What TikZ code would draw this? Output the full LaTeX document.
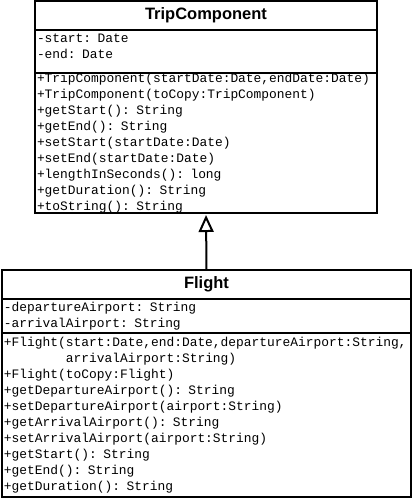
\documentclass[tikz,border=0pt]{standalone}
\usepackage{fontspec}
\setmainfont{Liberation Sans}
\setmonofont{Liberation Mono}
\usetikzlibrary{positioning,arrows.meta}

\tikzset{
    classname/.style={draw, rectangle, line width=2pt, outer sep=0pt, inner sep=0pt, minimum height=29pt, font=\fontsize{16.5}{20}\selectfont\bfseries},
    classpart/.style={draw, rectangle, line width=2pt, outer sep=0pt, inner xsep=2pt, inner ysep=0pt, align=left, font=\fontsize{12.9}{16}\selectfont\ttfamily},
    inherits/.style={-{Triangle[open, length=17pt, width=15pt]}, line width=2pt, shorten >=2pt}
}

\begin{document}
\begin{tikzpicture}[x=1pt, y=1pt]
    \fill[white] (0,0) rectangle (414,500);
    \useasboundingbox (0,0) rectangle (414,500);

    % superclass
    \node[classname, minimum width=342pt, anchor=north] (trip-name) at (206,499) {TripComponent};
    \node[classpart, text width=338pt, minimum height=43pt, below=0pt of trip-name] (trip-attr) {-start: Date\\-end: Date\\[-5pt]\mbox{}};
    \node[classpart, text width=338pt, minimum height=139pt, below=0pt of trip-attr] (trip-ops) {+TripComponent(startDate:Date,endDate:Date)\\+TripComponent(toCopy:TripComponent)\\+getStart(): String\\+getEnd(): String\\+setStart(startDate:Date)\\+setEnd(startDate:Date)\\+lengthInSeconds(): long\\+getDuration(): String\\+toString(): String};

    % subclass
    \node[classname, minimum width=409pt, anchor=north] (flight-name) at (206.5,230) {Flight};
    \node[classpart, text width=405pt, minimum height=34pt, below=0pt of flight-name] (flight-attr) {-departureAirport: String\\-arrivalAirport: String};
    \node[classpart, text width=405pt, minimum height=164pt, below=0pt of flight-attr] (flight-ops) {+Flight(start:Date,end:Date,departureAirport:String,\\\phantom{+Flight(}arrivalAirport:String)\\+Flight(toCopy:Flight)\\+getDepartureAirport(): String\\+setDepartureAirport(airport:String)\\+getArrivalAirport(): String\\+setArrivalAirport(airport:String)\\+getStart(): String\\+getEnd(): String\\+getDuration(): String};

    \draw[inherits] (flight-name.north) -- (trip-ops.south);
\end{tikzpicture}
\end{document}
